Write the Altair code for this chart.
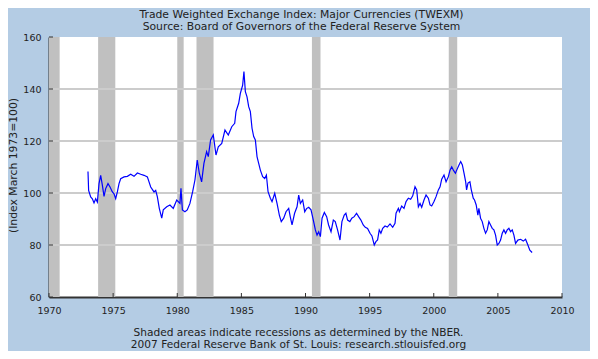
import altair as alt
import pandas as pd

# ---- data ----
years = [1973.04, 1973.09, 1973.25, 1973.38, 1973.51, 1973.64, 1973.77, 1973.90, 1974.03, 1974.16,
         1974.29, 1974.42, 1974.60, 1974.76, 1974.94, 1975.07, 1975.20, 1975.33, 1975.46, 1975.59,
         1975.85, 1976.11, 1976.37, 1976.63, 1976.89, 1977.15, 1977.41, 1977.67, 1977.93, 1978.19,
         1978.32, 1978.45, 1978.60, 1978.79, 1978.91, 1979.18, 1979.43, 1979.69, 1979.96, 1980.21,
         1980.29, 1980.40, 1980.60, 1980.78, 1980.99, 1981.20, 1981.38, 1981.56, 1981.72, 1981.90,
         1982.08, 1982.29, 1982.42, 1982.60, 1982.81, 1983.02, 1983.20, 1983.47, 1983.72, 1983.98,
         1984.25, 1984.48, 1984.58, 1984.79, 1984.92, 1985.10, 1985.20, 1985.31, 1985.44, 1985.57,
         1985.70, 1985.83, 1985.96, 1986.09, 1986.22, 1986.35, 1986.48, 1986.66, 1986.82, 1986.95,
         1987.08, 1987.26, 1987.39, 1987.60, 1987.78, 1987.96, 1988.11, 1988.30, 1988.48, 1988.69,
         1988.81, 1988.95, 1989.15, 1989.34, 1989.47, 1989.60, 1989.78, 1989.94, 1990.08, 1990.25,
         1990.43, 1990.61, 1990.77, 1990.90, 1991.03, 1991.16, 1991.29, 1991.47, 1991.65, 1991.80,
         1991.99, 1992.17, 1992.32, 1992.50, 1992.69, 1992.84, 1993.02, 1993.15, 1993.28, 1993.46,
         1993.61, 1993.80, 1993.98, 1994.14, 1994.32, 1994.50, 1994.66, 1994.84, 1995.03, 1995.18,
         1995.36, 1995.49, 1995.62, 1995.75, 1995.88, 1996.02, 1996.20, 1996.38, 1996.59, 1996.80,
         1996.98, 1997.06, 1997.24, 1997.32, 1997.50, 1997.68, 1997.84, 1998.02, 1998.20, 1998.36,
         1998.54, 1998.67, 1998.80, 1998.93, 1999.06, 1999.24, 1999.40, 1999.58, 1999.71, 1999.84,
         2000.02, 2000.18, 2000.36, 2000.49, 2000.62, 2000.80, 2000.96, 2001.14, 2001.27, 2001.40,
         2001.53, 2001.69, 2001.79, 2001.97, 2002.10, 2002.23, 2002.36, 2002.49, 2002.56, 2002.67,
         2002.82, 2002.92, 2003.08, 2003.18, 2003.31, 2003.44, 2003.52, 2003.65, 2003.78, 2003.91,
         2004.04, 2004.17, 2004.30, 2004.43, 2004.56, 2004.69, 2004.82, 2004.95, 2005.08, 2005.21,
         2005.34, 2005.47, 2005.60, 2005.73, 2005.86, 2005.99, 2006.12, 2006.25, 2006.38, 2006.56,
         2006.77, 2006.98, 2007.16, 2007.34, 2007.49, 2007.67]
values = [108.3, 101.0, 98.5, 97.8, 96.2, 97.8, 96.5, 103.6, 106.8, 103.0,
          98.7, 101.7, 103.6, 102.3, 100.4, 99.7, 97.8, 100.4, 103.6, 105.5,
          106.2, 106.4, 107.2, 106.4, 107.7, 107.2, 106.8, 106.2, 102.3, 100.4,
          101.0, 98.5, 94.1, 90.3, 93.5, 94.7, 95.4, 94.1, 97.3, 96.0,
          101.8, 93.5, 92.8, 93.5, 96.0, 100.5, 105.0, 112.7, 107.6, 104.3,
          111.4, 115.9, 114.0, 120.4, 122.3, 114.6, 117.8, 119.1, 124.2, 122.3,
          125.5, 126.8, 131.3, 134.5, 138.3, 141.5, 146.7, 139.0, 137.0, 133.2,
          131.3, 124.9, 121.7, 120.4, 114.0, 111.4, 108.8, 106.3, 105.6, 106.9,
          100.5, 98.0, 96.7, 99.9, 96.0, 91.5, 89.0, 90.3, 92.8, 94.1,
          90.9, 87.7, 92.2, 94.7, 99.2, 96.0, 97.3, 92.8, 94.0, 94.5,
          93.5, 89.6, 85.8, 83.8, 85.1, 83.2, 90.3, 92.5, 90.9, 87.7,
          85.1, 89.6, 89.0, 85.8, 81.9, 89.0, 91.5, 92.2, 89.6, 89.0,
          90.3, 90.9, 92.2, 90.9, 89.6, 87.7, 86.8, 86.4, 84.5, 83.5,
          80.0, 81.3, 81.9, 85.8, 84.5, 86.4, 87.3, 86.9, 88.1, 86.8,
          88.3, 92.2, 94.1, 92.8, 95.0, 94.1, 96.7, 98.0, 97.6, 98.9,
          102.4, 101.2, 94.7, 96.0, 94.5, 97.3, 99.2, 98.0, 95.4, 95.0,
          96.7, 98.6, 101.2, 102.4, 105.3, 106.9, 104.3, 106.3, 108.8, 110.1,
          108.8, 107.6, 108.8, 110.8, 112.1, 110.8, 107.6, 104.3, 101.2, 103.8,
          104.3, 101.4, 98.0, 97.3, 95.4, 91.5, 94.1, 90.3, 89.0, 86.4,
          84.5, 85.8, 89.0, 87.7, 86.4, 85.8, 83.8, 80.0, 80.6, 81.9,
          84.5, 85.8, 84.5, 85.8, 86.4, 85.1, 85.8, 83.8, 80.6, 81.9,
          82.2, 81.5, 82.2, 80.0, 78.0, 77.1]

rec_start = [1969.92, 1973.83, 1980.00, 1981.50, 1990.50, 2001.17]
rec_end = [1970.83, 1975.17, 1980.50, 1982.83, 1991.17, 2001.83]

grid_values = [80, 100, 120, 140]
x_tick_values = [1970, 1975, 1980, 1985, 1990, 1995, 2000, 2005, 2010]
y_tick_values = [60, 80, 100, 120, 140, 160]

title_lines = ["Trade Weighted Exchange Index: Major Currencies (TWEXM)",
               "Source: Board of Governors of the Federal Reserve System"]
footer_lines = ["Shaded areas indicate recessions as determined by the NBER.",
                "2007 Federal Reserve Bank of St. Louis: research.stlouisfed.org"]
y_title = "(Index March 1973=100)"

series = pd.DataFrame({"year": years, "value": values})
rec = pd.DataFrame({"start": rec_start, "end": rec_end})
grid = pd.DataFrame({"v": grid_values})
xt = pd.DataFrame({"t": x_tick_values})
yt = pd.DataFrame({"t": y_tick_values})

FONT = "DejaVu Sans"
W, H = 513, 260
xscale = alt.Scale(domain=[1970, 2010], nice=False, zero=False)
yscale = alt.Scale(domain=[60, 160], nice=False, zero=False)

xaxis = alt.Axis(values=x_tick_values, format="d", ticks=False, grid=False,
                 labelFlush=False, labelOverlap=False,
                 domainColor="#333333", domainWidth=2, labelPadding=8,
                 labelFontSize=9.5, labelColor="#222222", labelFont=FONT,
                 title=footer_lines, titleFont=FONT, titleFontSize=10.6,
                 titleFontWeight="normal", titleColor="#222222",
                 titleLineHeight=12.5, titlePadding=12.5, titleX=249)
yaxis = alt.Axis(values=y_tick_values, ticks=False, grid=False,
                 labelFlush=False, labelOverlap=False,
                 domainColor="#333333", domainWidth=2, labelPadding=8,
                 labelFontSize=9.5, labelColor="#222222", labelFont=FONT,
                 title=y_title, titleFont=FONT, titleFontSize=10.8,
                 titleFontWeight="normal", titleColor="#222222",
                 titleX=-36, titleY=128, titleBaseline="middle")

bars = alt.Chart(rec).mark_rect(color="#C0C0C0", clip=True).encode(
    x=alt.X("start:Q", scale=xscale, axis=xaxis),
    x2="end:Q",
)

grid_rules = alt.Chart(grid).mark_rule(color="#CCCCCC", strokeWidth=2).encode(
    y=alt.Y("v:Q", scale=yscale, axis=yaxis)
)

line = alt.Chart(series).mark_line(color="#0000FF", strokeWidth=1.2).encode(
    x=alt.X("year:Q", scale=xscale),
    y=alt.Y("value:Q", scale=yscale),
)

xticks = alt.Chart(xt).mark_rule(color="#333333", strokeWidth=1).encode(
    x=alt.X("t:Q", scale=xscale),
    y=alt.value(H),
    y2=alt.value(H - 4),
)
yticks = alt.Chart(yt).mark_rule(color="#333333", strokeWidth=1).encode(
    y=alt.Y("t:Q", scale=yscale),
    x=alt.value(0),
    x2=alt.value(4),
)

chart = alt.layer(bars, grid_rules, line, xticks, yticks).properties(
    width=W, height=H,
    title=alt.TitleParams(text=title_lines, font=FONT, fontSize=10.8,
                          fontWeight="normal", color="#222222", anchor="middle",
                          dx=-4, offset=0, lineHeight=12.5),
    background="#B4CCE4",
    padding={"left": 41, "top": 29, "right": 28, "bottom": 54},
    autosize="none",
).configure_view(fill="white", stroke=None)

chart.save("out.html", embed_options={"renderer": "svg", "actions": False})
